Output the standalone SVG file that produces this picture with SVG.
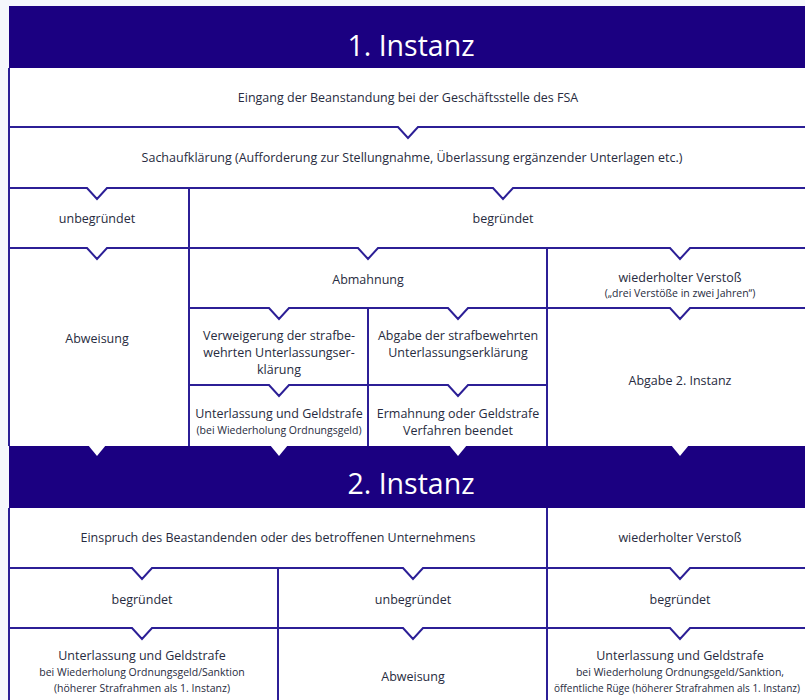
<svg xmlns="http://www.w3.org/2000/svg" width="805" height="700" viewBox="0 0 805 700">
<style>
.bg{fill:#f5f7fc}
.panel{fill:#ffffff}
.hdr{fill:#1b0081}
.ln{fill:none;stroke:#2c1f96;stroke-width:2;stroke-linejoin:miter}
.notch{fill:#ffffff}
.ht{font-family:"Open Sans","Noto Sans",sans-serif;font-size:28.5px;fill:#ffffff;text-anchor:middle}
.t{font-family:"Open Sans","Noto Sans",sans-serif;font-size:12.5px;fill:#272b40;text-anchor:middle}
.s{font-family:"Open Sans","Noto Sans",sans-serif;font-size:10.5px;fill:#272b40;text-anchor:middle}
</style>
<rect class="bg" x="0" y="0" width="805" height="700"/>
<rect class="panel" x="9" y="68" width="796" height="632"/>

<g id="header1">
<rect class="hdr" x="9" y="6" width="796" height="62"/>
<text class="ht" x="411" y="56">1. Instanz</text>
</g>

<g id="header2">
<rect class="hdr" x="9" y="446" width="796" height="62"/>
<polygon class="notch" points="88,445 106,445 97,456"/>
<polygon class="notch" points="270,445 288,445 279,456"/>
<polygon class="notch" points="449,445 467,445 458,456"/>
<polygon class="notch" points="671,445 689,445 680,456"/>
<text class="ht" x="411" y="494">2. Instanz</text>
</g>

<g id="connectors">
<path class="ln" d="M9,68 V446 M9,508 V700"/>
<path class="ln" d="M9,127 H398 L408,138 L418,127 H805"/>
<path class="ln" d="M9,188 H87 L97,199 L107,188 H493 L503,199 L513,188 H805"/>
<path class="ln" d="M9,248 H87 L97,259 L107,248 H358 L368,259 L378,248 H670 L680,259 L690,248 H805"/>
<path class="ln" d="M189,308 H269 L279,319 L289,308 H448 L458,319 L468,308 H670 L680,319 L690,308 H805"/>
<path class="ln" d="M189,385 H269 L279,396 L289,385 H448 L458,396 L468,385 H547"/>
<path class="ln" d="M189,188 V446 M547,248 V446 M368,308 V446"/>
<path class="ln" d="M9,568 H132 L142,579 L152,568 H403 L413,579 L423,568 H670 L680,579 L690,568 H805"/>
<path class="ln" d="M9,628 H132 L142,639 L152,628 H403 L413,639 L423,628 H670 L680,639 L690,628 H805"/>
<path class="ln" d="M547,508 V700 M278,568 V700"/>
</g>

<g id="eingang"><text class="t" x="408" y="102">Eingang der Beanstandung bei der Geschäftsstelle des FSA</text></g>
<g id="sachaufklaerung"><text class="t" x="412" y="162">Sachaufklärung (Aufforderung zur Stellungnahme, Überlassung ergänzender Unterlagen etc.)</text></g>
<g id="unbegruendet1"><text class="t" x="97" y="223">unbegründet</text></g>
<g id="begruendet1"><text class="t" x="503" y="223">begründet</text></g>
<g id="abweisung1"><text class="t" x="97" y="343">Abweisung</text></g>
<g id="abmahnung"><text class="t" x="368" y="284">Abmahnung</text></g>
<g id="wiederholt1">
<text class="t" x="680" y="282">wiederholter Verstoß</text>
<text class="s" x="680" y="297">(„drei Verstöße in zwei Jahren“)</text>
</g>
<g id="verweigerung">
<text class="t" x="279" y="340">Verweigerung der strafbe-</text>
<text class="t" x="279" y="357">wehrten Unterlassungser-</text>
<text class="t" x="279" y="374">klärung</text>
</g>
<g id="abgabeErklaerung">
<text class="t" x="458" y="340">Abgabe der strafbewehrten</text>
<text class="t" x="458" y="357">Unterlassungserklärung</text>
</g>
<g id="abgabe2"><text class="t" x="680" y="385">Abgabe 2. Instanz</text></g>
<g id="unterlassung1">
<text class="t" x="279" y="418">Unterlassung und Geldstrafe</text>
<text class="s" x="279" y="434">(bei Wiederholung Ordnungsgeld)</text>
</g>
<g id="ermahnung">
<text class="t" x="458" y="418">Ermahnung oder Geldstrafe</text>
<text class="t" x="458" y="435">Verfahren beendet</text>
</g>
<g id="einspruch"><text class="t" x="278" y="542">Einspruch des Beastandenden oder des betroffenen Unternehmens</text></g>
<g id="wiederholt2"><text class="t" x="680" y="542">wiederholter Verstoß</text></g>
<g id="begruendet2"><text class="t" x="142" y="604">begründet</text></g>
<g id="unbegruendet2"><text class="t" x="413" y="604">unbegründet</text></g>
<g id="begruendet3"><text class="t" x="680" y="604">begründet</text></g>
<g id="unterlassung2">
<text class="t" x="142" y="660">Unterlassung und Geldstrafe</text>
<text class="s" x="142" y="676">bei Wiederholung Ordnungsgeld/Sanktion</text>
<text class="s" x="142" y="692">(höherer Strafrahmen als 1. Instanz)</text>
</g>
<g id="abweisung2"><text class="t" x="413" y="681">Abweisung</text></g>
<g id="unterlassung3">
<text class="t" x="680" y="660">Unterlassung und Geldstrafe</text>
<text class="s" x="680" y="676">bei Wiederholung Ordnungsgeld/Sanktion,</text>
<text class="s" x="677" y="692" style="font-size:10px">öffentliche Rüge (höherer Strafrahmen als 1. Instanz)</text>
</g>
</svg>
